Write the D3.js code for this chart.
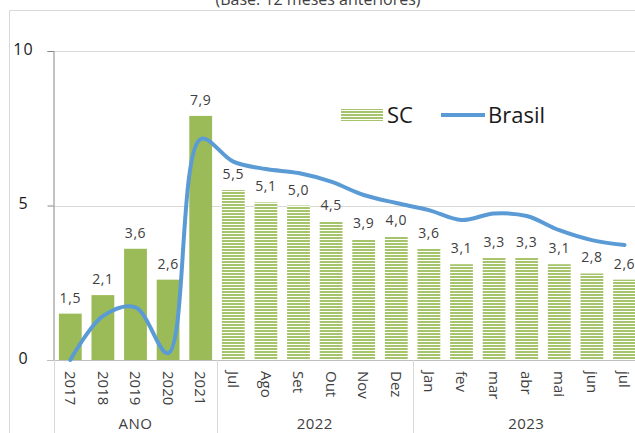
<!DOCTYPE html>
<html>
<head>
<meta charset="utf-8">
<script src="https://cdn.jsdelivr.net/npm/d3@7"></script>
<style>
  html, body { margin: 0; padding: 0; background: #fff; }
  svg { display: block; }
  text { font-family: "Open Sans", "Noto Sans", sans-serif; }
</style>
</head>
<body>
<svg id="chart" width="635" height="433"></svg>
<script>
// Categories along the x axis and the group each belongs to
const categories = ["2017", "2018", "2019", "2020", "2021",
  "Jul", "Ago", "Set", "Out", "Nov", "Dez",
  "Jan", "fev", "mar", "abr", "mai", "jun", "jul"];
const groupOf = ["ANO", "ANO", "ANO", "ANO", "ANO",
  "2022", "2022", "2022", "2022", "2022", "2022",
  "2023", "2023", "2023", "2023", "2023", "2023", "2023"];
const groupNames = ["ANO", "2022", "2023"];

// Santa Catarina (bars) and Brasil (line)
const scValues = [1.5, 2.1, 3.6, 2.6, 7.9, 5.5, 5.1, 5.0, 4.5, 3.9, 4.0, 3.6, 3.1, 3.3, 3.3, 3.1, 2.8, 2.6];
const brasilValues = [0.0, 1.42, 1.7, 0.22, 7.15, 6.42, 6.18, 6.05, 5.77, 5.34, 5.08, 4.85, 4.53, 4.74, 4.66, 4.2, 3.88, 3.72];
const yTicks = [0, 5, 10];

const svg = d3.select("#chart");
const fmt = v => d3.format(".1f")(v).replace(".", ",");

const x = d3.scaleBand().domain(categories).range([54, 54 + 18 * 32.6]).paddingInner(0.3).paddingOuter(0.15);
const y = d3.scaleLinear().domain([0, 10]).range([360, 51]);

// Stripe fill for the monthly bars
const defs = svg.append("defs");
const pat = defs.append("pattern").attr("id", "stripes")
  .attr("patternUnits", "userSpaceOnUse").attr("width", 6).attr("height", 3);
pat.append("rect").attr("width", 6).attr("height", 3).attr("fill", "#ffffff");
pat.append("rect").attr("width", 6).attr("height", 2).attr("fill", "#a5c46b");

// Outer frame
svg.append("path").attr("d", "M9.5,433 V10.5 H640")
  .attr("fill", "none").attr("stroke", "#d9d9d9").attr("stroke-width", 1);

// Title (partly above the frame)
svg.append("text").attr("x", 318).attr("y", 5).attr("text-anchor", "middle")
  .attr("font-size", 16).attr("fill", "#404040").text("(Base: 12 meses anteriores)");

// Gridlines
svg.append("g").selectAll("line").data(yTicks.filter(d => d > 0)).join("line")
  .attr("x1", 54).attr("x2", 640)
  .attr("y1", d => Math.round(y(d)) + 0.5).attr("y2", d => Math.round(y(d)) + 0.5)
  .attr("stroke", "#d9d9d9");

// Y axis
const yAxis = svg.append("g").attr("transform", "translate(53.5,0)")
  .call(d3.axisLeft(y).tickValues(yTicks).tickSize(6).tickFormat(d3.format("d")));
yAxis.select(".domain").attr("stroke", "#868686");
yAxis.selectAll(".tick line").attr("stroke", "#868686");
yAxis.selectAll(".tick text").attr("x", -30).attr("text-anchor", "middle")
  .attr("font-size", 16).attr("letter-spacing", 1).attr("fill", "#1a1a1a")
  .attr("font-family", "'Open Sans', sans-serif").attr("dy", "0.2em");

// Bars
svg.append("g").selectAll("rect").data(scValues).join("rect")
  .attr("x", (d, i) => x(categories[i]))
  .attr("width", x.bandwidth())
  .attr("y", d => y(d))
  .attr("height", d => y(0) - y(d))
  .attr("fill", (d, i) => groupOf[i] === "ANO" ? "#9bbb59" : "url(#stripes)");

// Baseline
svg.append("line").attr("x1", 47).attr("x2", 640).attr("y1", 360.5).attr("y2", 360.5)
  .attr("stroke", "#bfbfbf");

// Brasil line
const line = d3.line()
  .x((d, i) => x(categories[i]) + x.bandwidth() / 2)
  .y(d => y(d))
  .curve(d3.curveCatmullRom.alpha(0.5));
svg.append("path").datum(brasilValues).attr("d", line)
  .attr("fill", "none").attr("stroke", "#5b9bd5").attr("stroke-width", 4)
  .attr("stroke-linecap", "round");

// Value labels
svg.append("g").selectAll("text").data(scValues).join("text")
  .attr("x", (d, i) => x(categories[i]) + x.bandwidth() / 2)
  .attr("y", d => y(d) - 11)
  .attr("text-anchor", "middle").attr("font-size", 14).attr("letter-spacing", 0.6)
  .attr("fill", "#404040")
  .text(d => fmt(d));

// Category labels (rotated)
svg.append("g").selectAll("text").data(categories).join("text")
  .attr("transform", d => `translate(${x(d) + x.bandwidth() / 2},371) rotate(90)`)
  .attr("dy", "0.35em").attr("font-size", 15).attr("fill", "#404040")
  .text(d => d);

// Group separators and labels
const groupBounds = groupNames.map(g => {
  const idx = categories.map((c, i) => i).filter(i => groupOf[i] === g);
  const x0 = x(categories[idx[0]]) - x.step() * x.paddingInner() / 2;
  const x1 = x(categories[idx[idx.length - 1]]) + x.bandwidth() + x.step() * x.paddingInner() / 2;
  return { g, x0, x1 };
});
svg.append("g").selectAll("line").data(groupBounds).join("line")
  .attr("x1", d => Math.round(d.x0) + 0.5).attr("x2", d => Math.round(d.x0) + 0.5)
  .attr("y1", 360).attr("y2", 433).attr("stroke", "#d9d9d9");
svg.append("g").selectAll("text").data(groupBounds).join("text")
  .attr("x", d => (d.x0 + Math.min(d.x1, 640)) / 2)
  .attr("y", 429).attr("text-anchor", "middle").attr("font-size", 15).attr("letter-spacing", 0.5)
  .attr("fill", "#404040")
  .text(d => d.g);

// Legend
const lg = svg.append("g");
lg.append("rect").attr("x", 341).attr("y", 109).attr("width", 42).attr("height", 12).attr("fill", "url(#stripes)");
lg.append("text").attr("x", 387).attr("y", 123).attr("font-size", 22).attr("fill", "#1a1a1a").text("SC");
lg.append("line").attr("x1", 441).attr("x2", 485).attr("y1", 115).attr("y2", 115)
  .attr("stroke", "#5b9bd5").attr("stroke-width", 4);
lg.append("text").attr("x", 488).attr("y", 123).attr("font-size", 22).attr("fill", "#1a1a1a").text("Brasil");
</script>
</body>
</html>
